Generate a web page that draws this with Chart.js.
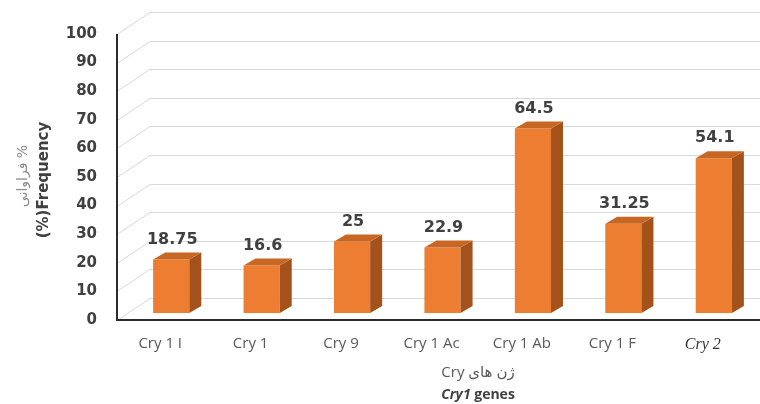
<!DOCTYPE html>
<html lang="fa">
<head>
    <meta charset="UTF-8">
    <title>Cry genes frequency</title>
    <script src="https://cdn.jsdelivr.net/npm/chart.js"></script>
    <style>
        body {
            margin: 0;
            padding: 0;
            background-color: #fff;
        }
        #chartBox {
            width: 760px;
            height: 404px;
        }
    </style>
</head>
<body>
    <div id="chartBox">
        <canvas id="cryChart" width="760" height="404"></canvas>
    </div>

    <script>
        // Chart data
        const categories = ['Cry 1 I', 'Cry 1', 'Cry 9', 'Cry 1 Ac', 'Cry 1 Ab', 'Cry 1 F', 'Cry 2'];
        const frequency = [18.75, 16.6, 25, 22.9, 64.5, 31.25, 54.1];
        const valueLabels = ['18.75', '16.6', '25', '22.9', '64.5', '31.25', '54.1'];
        const yTitleFa = '% فراوانی';
        const yTitleEn = '(%)Frequency';
        const xTitleFa = 'ژن های Cry';

        // 3D look: front plane, bar depth, back wall
        const FRONT_X = 117, FRONT_DY = 7;
        const BACK_X = 150, BACK_DY = -15;
        const DEPTH_X = 12, DEPTH_Y = -7;
        const FRONT_COLOR = '#ed7d31';
        const SIDE_COLOR = '#a3521b';
        const TOP_COLOR = '#c86724';

        const threeD = {
            id: 'threeD',
            beforeDatasetsDraw(chart) {
                const { ctx, scales: { y } } = chart;
                ctx.save();
                // back wall gridlines + side wall diagonals
                ctx.strokeStyle = '#d9d9d9';
                ctx.lineWidth = 1;
                y.ticks.forEach(t => {
                    const py = Math.round(y.getPixelForValue(t.value)) + 0.5;
                    ctx.beginPath();
                    ctx.moveTo(FRONT_X, py + FRONT_DY);
                    ctx.lineTo(BACK_X, py + BACK_DY);
                    ctx.lineTo(chart.width, py + BACK_DY);
                    ctx.stroke();
                });
                // front axes
                const y0 = Math.round(y.getPixelForValue(0)) + FRONT_DY;
                const yTop = Math.round(y.getPixelForValue(100)) + FRONT_DY;
                ctx.strokeStyle = '#2b2b2b';
                ctx.lineWidth = 2;
                ctx.beginPath();
                ctx.moveTo(FRONT_X, yTop);
                ctx.lineTo(FRONT_X, y0);
                ctx.lineTo(chart.width, y0);
                ctx.stroke();
                ctx.restore();
            },
            afterDatasetsDraw(chart) {
                const ctx = chart.ctx;
                const meta = chart.getDatasetMeta(0);
                ctx.save();
                meta.data.forEach((bar, i) => {
                    const { x, y, base, width } = bar.getProps(['x', 'y', 'base', 'width'], true);
                    const l = x - width / 2, r = x + width / 2;
                    // side face
                    ctx.fillStyle = SIDE_COLOR;
                    ctx.beginPath();
                    ctx.moveTo(r, y);
                    ctx.lineTo(r + DEPTH_X, y + DEPTH_Y);
                    ctx.lineTo(r + DEPTH_X, base + DEPTH_Y);
                    ctx.lineTo(r, base);
                    ctx.closePath();
                    ctx.fill();
                    // top face
                    ctx.fillStyle = TOP_COLOR;
                    ctx.beginPath();
                    ctx.moveTo(l, y);
                    ctx.lineTo(l + DEPTH_X, y + DEPTH_Y);
                    ctx.lineTo(r + DEPTH_X, y + DEPTH_Y);
                    ctx.lineTo(r, y);
                    ctx.closePath();
                    ctx.fill();
                    // value label
                    ctx.fillStyle = '#404040';
                    ctx.font = 'bold 16px "DejaVu Sans"';
                    ctx.textAlign = 'center';
                    ctx.textBaseline = 'middle';
                    ctx.fillText(valueLabels[i], x + 1, y - 20);
                });
                ctx.restore();
            },
            afterDraw(chart) {
                const ctx = chart.ctx;
                ctx.save();
                // y axis titles (rotated)
                ctx.translate(44, 180);
                ctx.rotate(-Math.PI / 2);
                ctx.textAlign = 'center';
                ctx.textBaseline = 'middle';
                ctx.fillStyle = '#404040';
                ctx.font = 'bold 15px "DejaVu Sans"';
                ctx.fillText(yTitleEn, 0, 0);
                ctx.direction = 'rtl';
                ctx.fillStyle = '#8c8c8c';
                ctx.font = '14px "DejaVu Sans"';
                ctx.fillText(yTitleFa, 4, -21);
                ctx.restore();

                // x axis titles
                ctx.save();
                const cx = 478;
                ctx.textBaseline = 'middle';
                ctx.textAlign = 'center';
                ctx.direction = 'rtl';
                ctx.fillStyle = '#595959';
                ctx.font = '15px "Open Sans", "DejaVu Sans"';
                ctx.fillText(xTitleFa, cx, 373);
                ctx.direction = 'ltr';
                ctx.textAlign = 'left';
                ctx.fillStyle = '#404040';
                const fItalic = 'italic bold 14px "Open Sans"';
                const fBold = 'bold 14px "Open Sans"';
                ctx.font = fItalic;
                const w1 = ctx.measureText('Cry1').width;
                ctx.font = fBold;
                const w2 = ctx.measureText(' genes').width;
                const sx = cx - (w1 + w2) / 2;
                ctx.font = fItalic;
                ctx.fillText('Cry1', sx, 395);
                ctx.font = fBold;
                ctx.fillText(' genes', sx + w1, 395);
                ctx.restore();
            }
        };

        const ctx = document.getElementById('cryChart').getContext('2d');
        const cryChart = new Chart(ctx, {
            type: 'bar',
            data: {
                labels: categories,
                datasets: [{
                    data: frequency,
                    backgroundColor: FRONT_COLOR,
                    borderWidth: 0,
                    categoryPercentage: 1,
                    barPercentage: 0.4
                }]
            },
            options: {
                responsive: false,
                animation: false,
                layout: {
                    padding: { top: 27, right: 1, left: 0, bottom: 0 }
                },
                plugins: {
                    legend: { display: false },
                    tooltip: { enabled: false }
                },
                scales: {
                    x: {
                        offset: true,
                        grid: { display: false, drawTicks: false },
                        border: { display: false },
                        ticks: {
                            padding: 22,
                            labelOffset: -11,
                            maxRotation: 0,
                            autoSkip: false,
                            color: c => c.index === 6 ? '#333333' : '#595959',
                            font: c => c.index === 6
                                ? { family: '"Liberation Serif"', style: 'italic', size: 16 }
                                : { family: '"Open Sans"', size: 15 }
                        },
                        afterFit(scale) {
                            scale.height = 91;
                            scale.paddingLeft = 0;
                            scale.paddingRight = 0;
                        }
                    },
                    y: {
                        min: 0,
                        max: 100,
                        grid: { display: false, drawTicks: false },
                        border: { display: false },
                        ticks: {
                            stepSize: 10,
                            padding: 29,
                            labelOffset: 7,
                            color: '#404040',
                            font: { family: '"DejaVu Sans"', weight: 'bold', size: 15 }
                        },
                        afterFit(scale) {
                            scale.width = 126;
                            scale.paddingTop = 0;
                            scale.paddingBottom = 0;
                        }
                    }
                }
            },
            plugins: [threeD]
        });
    </script>
</body>
</html>
